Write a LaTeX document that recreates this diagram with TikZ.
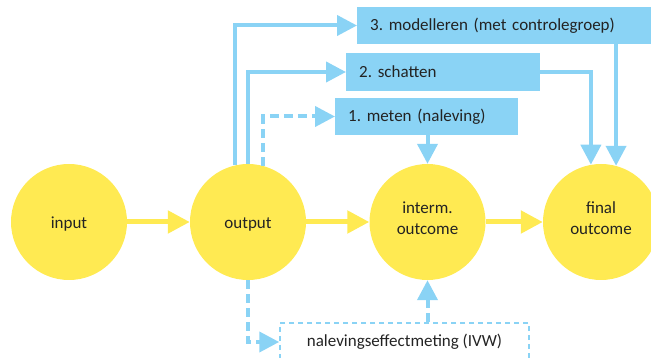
\documentclass[tikz,border=0pt]{standalone}
\usepackage{fontspec}
\setmainfont{Carlito}
\usetikzlibrary{arrows.meta}
\definecolor{yel}{RGB}{255,234,82}
\definecolor{blu}{RGB}{138,211,245}
\definecolor{txt}{RGB}{35,35,35}
\begin{document}
\frenchspacing
\begin{tikzpicture}[x=1pt,y=-1pt,
  font=\fontsize{17}{21}\selectfont, text=txt,
  stage/.style={circle,fill=yel,minimum size=116pt,inner sep=0pt},
  lbl/.style={align=center,text=txt,font=\fontsize{17}{21}\selectfont},
  bbox/.style={fill=blu,anchor=west,inner xsep=13pt,inner ysep=0pt,align=left},
  yarr/.style={draw=yel,line width=5pt,-{Triangle[length=22pt,width=22pt]}},
  barr/.style={draw=blu,line width=4pt,-{Triangle[length=20pt,width=20pt]}},
  dsh/.style={dash pattern=on 9pt off 5pt}]
\useasboundingbox (0,0) rectangle (651,358);
\clip (0,0) rectangle (651,358);
% stages
\node[stage,label={[lbl,yshift=-2pt]center:input}] (input) at (69,222) {};
\node[stage,label={[lbl,yshift=-2pt]center:output}] (output) at (248,222) {};
\node[stage,label={[lbl,yshift=4pt]center:interm.\\outcome}] (interm) at (427.5,222) {};
\node[stage,label={[lbl,yshift=4pt]center:final\\outcome}] (final) at (601,222) {};
% boxes
\node[bbox,minimum width=300pt,minimum height=37pt,text width=274pt] (m3) at (357,25.5) {3. modelleren (met controlegroep)};
\node[bbox,minimum width=194pt,minimum height=38pt,text width=168pt] (m2) at (346,72) {2. schatten};
\node[bbox,minimum width=183pt,minimum height=37pt,text width=157pt] (m1) at (335,116.5) {1. meten (naleving)};
\node[draw=blu,line width=1.5pt,dash pattern=on 5pt off 4pt,minimum width=249pt,minimum height=38pt,inner sep=0pt] (eff) at (404.5,342) {nalevingseffectmeting (IVW)};
% yellow flow
\draw[yarr] (input) -- (output);
\draw[yarr] (output) -- (interm);
\draw[yarr] (interm) -- (final);
% blue connectors
\draw[barr] (output.103) |- (m3.west);
\draw[barr] (output.north) |- (m2.west);
\draw[barr,dsh] (output.75) |- (m1.west);
\draw[barr] (m2.east) -| (final.100);
\draw[barr] (final.75 |- m3.south) -- (final.75);
\draw[barr] (m1.south -| interm.north) -- (interm.north);
\draw[barr,dsh] (output.south) |- (eff.west);
\draw[barr,dsh] (interm.south |- eff.north) -- (interm.south);
\end{tikzpicture}
\end{document}
